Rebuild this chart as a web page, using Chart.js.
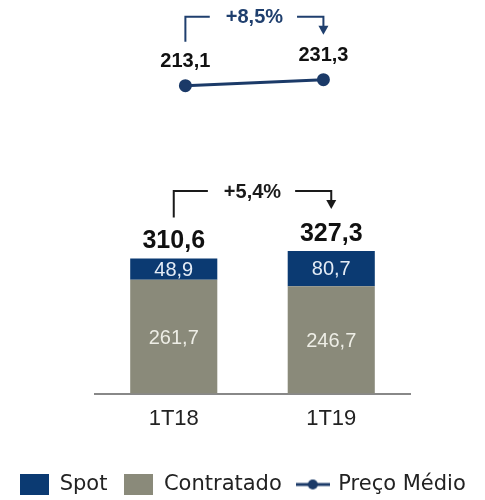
<!DOCTYPE html>
<html>
<head>
<meta charset="utf-8">
<script src="https://cdn.jsdelivr.net/npm/chart.js@4.4.1/dist/chart.umd.min.js"></script>
<style>
  html, body { margin: 0; padding: 0; background: #fff; }
  #wrap { width: 485px; height: 500px; }
</style>
</head>
<body>
<div id="wrap"><canvas id="chartCanvas"></canvas></div>
<script>
const categories = ["1T18", "1T19"]
const contratadoValues = [261.7, 246.7]
const spotValues = [48.9, 80.7]
const totalValues = [310.6, 327.3]
const precoMedioValues = [213.1, 231.3]
const precoGrowth = "+8,5%"
const volumeGrowth = "+5,4%"

const navy = "#0b3a72"
const gray = "#8a8a7a"
const lineBlue = "#1b3a68"

function fmt(v){
    return v.toFixed(1).replace(".", ",")
}

function boxIcon(color, w, h){
    const c = document.createElement("canvas")
    c.width = w
    c.height = h
    const g = c.getContext("2d")
    g.fillStyle = color
    g.fillRect(0, 0, w, h)
    return c
}

function lineIcon(){
    const c = document.createElement("canvas")
    c.width = 34
    c.height = 12
    const g = c.getContext("2d")
    g.strokeStyle = lineBlue
    g.lineWidth = 3
    g.beginPath()
    g.moveTo(0, 6)
    g.lineTo(34, 6)
    g.stroke()
    g.fillStyle = lineBlue
    g.beginPath()
    g.arc(17, 6, 5, 0, Math.PI * 2)
    g.fill()
    return c
}

function drawBracket(ctx, x1, y1, x2, y2, text, color, font){
    const level = Math.min(y1, y2) - 18
    const midX = (x1 + x2) / 2
    ctx.save()
    ctx.font = font
    const half = ctx.measureText(text).width / 2
    ctx.strokeStyle = color
    ctx.fillStyle = color
    ctx.lineWidth = 2
    ctx.beginPath()
    ctx.moveTo(x1, y1)
    ctx.lineTo(x1, level)
    ctx.lineTo(midX - half - 16, level)
    ctx.moveTo(midX + half + 14, level)
    ctx.lineTo(x2, level)
    ctx.lineTo(x2, y2 - 8)
    ctx.stroke()
    ctx.beginPath()
    ctx.moveTo(x2 - 5, y2 - 9)
    ctx.lineTo(x2 + 5, y2 - 9)
    ctx.lineTo(x2, y2)
    ctx.closePath()
    ctx.fill()
    ctx.textAlign = "center"
    ctx.textBaseline = "middle"
    ctx.fillText(text, midX, level + 1)
    ctx.restore()
}

const labelsPlugin = {
    id: "labelsPlugin",
    afterDatasetsDraw(chart){
        const ctx = chart.ctx
        const contr = chart.getDatasetMeta(0).data
        const spot = chart.getDatasetMeta(1).data
        const pts = chart.getDatasetMeta(2).data

        ctx.save()
        ctx.textAlign = "center"
        ctx.textBaseline = "middle"

        // values inside the bars
        ctx.font = "20px 'Liberation Sans'"
        contr.forEach((el, i) => {
            ctx.fillStyle = "#eeeee6"
            ctx.fillText(fmt(contratadoValues[i]), el.x, (el.y + el.base) / 2 + 2)
        })
        spot.forEach((el, i) => {
            ctx.fillStyle = "#e4ecf6"
            ctx.fillText(fmt(spotValues[i]), el.x, (el.y + el.base) / 2 + 1)
        })

        // totals
        ctx.font = "bold 25px 'Liberation Sans'"
        ctx.fillStyle = "#111"
        spot.forEach((el, i) => {
            ctx.fillText(fmt(totalValues[i]), el.x, el.y - 17)
        })

        // average price labels
        ctx.font = "bold 20px 'Liberation Sans'"
        pts.forEach((el, i) => {
            ctx.fillText(fmt(precoMedioValues[i]), el.x, el.y - 24)
        })
        ctx.restore()

        drawBracket(ctx, pts[0].x, pts[0].y - 44, pts[1].x, pts[1].y - 45,
            precoGrowth, "#1f3f6e", "bold 20px 'Liberation Sans'")
        drawBracket(ctx, spot[0].x, spot[0].y - 41, spot[1].x, spot[1].y - 42,
            volumeGrowth, "#1a1a1a", "bold 20px 'Liberation Sans'")
    }
}

const legendIcons = [boxIcon(navy, 29, 21), boxIcon(gray, 29, 21), lineIcon()]
const legendNames = ["Spot", "Contratado", "Preço Médio"]
const legendDataset = [1, 0, 2]

const hiddenAxis = {
    ticks: {display: false},
    grid: {display: false, drawTicks: false},
    border: {display: false}
}

new Chart(document.getElementById("chartCanvas"), {
    type: "bar",
    data: {
        labels: categories,
        datasets: [
            {
                label: "Contratado",
                data: contratadoValues,
                backgroundColor: gray,
                grouped: false,
                barPercentage: 1,
                categoryPercentage: 0.553,
                order: 2
            },
            {
                label: "Spot",
                data: spotValues,
                backgroundColor: navy,
                grouped: false,
                barPercentage: 1,
                categoryPercentage: 0.553,
                order: 2
            },
            {
                type: "line",
                label: "Preço Médio",
                data: precoMedioValues.map((v, i) => ({x: i, y: v})),
                xAxisID: "x2",
                yAxisID: "y2",
                borderColor: lineBlue,
                backgroundColor: lineBlue,
                borderWidth: 3,
                pointRadius: 5,
                pointHoverRadius: 5,
                order: 1
            }
        ]
    },
    options: {
        responsive: true,
        maintainAspectRatio: false,
        animation: false,
        layout: {
            padding: {left: 0, right: 0, top: 0, bottom: -5}
        },
        plugins: {
            tooltip: {enabled: false},
            legend: {
                position: "bottom",
                labels: {
                    usePointStyle: true,
                    pointStyleWidth: 30,
                    boxHeight: 21,
                    padding: 16,
                    color: "#222",
                    font: {family: "'DejaVu Sans'", size: 21},
                    generateLabels(){
                        return legendNames.map((name, i) => ({
                            text: name,
                            pointStyle: legendIcons[i],
                            fillStyle: "transparent",
                            strokeStyle: "transparent",
                            lineWidth: 0,
                            hidden: false,
                            datasetIndex: legendDataset[i],
                            fontColor: "#222"
                        }))
                    }
                }
            }
        },
        scales: {
            x: {
                stacked: true,
                grid: {display: false, drawTicks: false},
                border: {display: true, color: "#888", width: 2},
                ticks: {
                    padding: 12,
                    color: "#222",
                    font: {family: "'Liberation Sans'", size: 22}
                },
                afterFit(scale){ scale.height += 14 }
            },
            y: {
                ...hiddenAxis,
                stacked: true,
                position: "left",
                min: 0,
                max: 886,
                afterFit(scale){ scale.width = 95 }
            },
            x2: {
                type: "linear",
                display: false,
                min: -0.3696,
                max: 1.342
            },
            y2: {
                ...hiddenAxis,
                position: "right",
                min: -726,
                max: 450,
                afterFit(scale){ scale.width = 75 }
            }
        }
    },
    plugins: [labelsPlugin]
})
</script>
</body>
</html>
